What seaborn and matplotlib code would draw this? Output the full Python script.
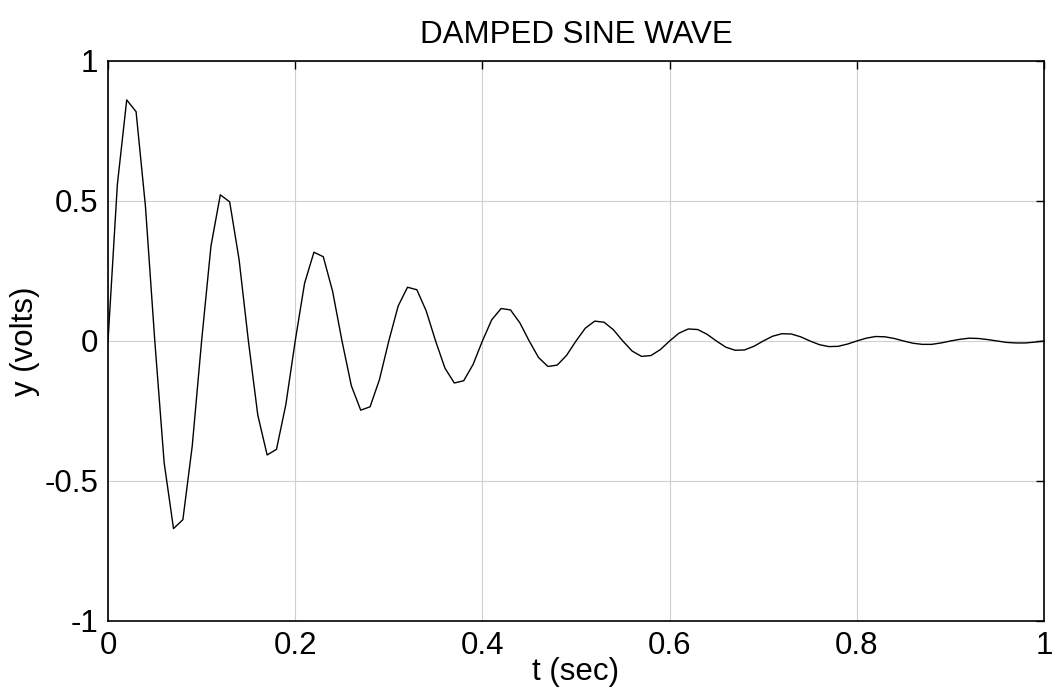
import matplotlib
matplotlib.use("Agg")
import matplotlib.pyplot as plt
import seaborn as sns
import pandas as pd

# sample times (s) and measured voltage of the damped sine
t_sec = [round(0.01 * k, 2) for k in range(101)]
y_volts = [
    0.000, 0.559, 0.861, 0.819, 0.481, 0.000, -0.435, -0.670, -0.638, -0.375,
    0.000, 0.339, 0.522, 0.497, 0.292, 0.000, -0.264, -0.407, -0.387, -0.227,
    0.000, 0.206, 0.317, 0.301, 0.177, 0.000, -0.160, -0.247, -0.235, -0.138,
    0.000, 0.125, 0.192, 0.183, 0.107, 0.000, -0.097, -0.150, -0.142, -0.084,
    0.000, 0.076, 0.116, 0.111, 0.065, 0.000, -0.059, -0.091, -0.086, -0.051,
    0.000, 0.046, 0.071, 0.067, 0.040, 0.000, -0.036, -0.055, -0.052, -0.031,
    0.000, 0.028, 0.043, 0.041, 0.024, 0.000, -0.022, -0.033, -0.032, -0.019,
    0.000, 0.017, 0.026, 0.025, 0.015, 0.000, -0.013, -0.020, -0.019, -0.011,
    0.000, 0.010, 0.016, 0.015, 0.009, 0.000, -0.008, -0.012, -0.012, -0.007,
    0.000, 0.006, 0.010, 0.009, 0.005, 0.000, -0.005, -0.007, -0.007, -0.004,
    0.000,
]
x_ticks = [0, 0.2, 0.4, 0.6, 0.8, 1]
x_tick_labels = ["0", "0.2", "0.4", "0.6", "0.8", "1"]
y_ticks = [-1, -0.5, 0, 0.5, 1]
y_tick_labels = ["-1", "-0.5", "0", "0.5", "1"]

sns.set_style("white")
plt.rcParams["font.family"] = ["Liberation Sans", "DejaVu Sans"]

df = pd.DataFrame({"t": t_sec, "y": y_volts})

fig = plt.figure(figsize=(10.52, 6.92), dpi=100)
ax = fig.add_axes([108 / 1052, 1 - 621 / 692, (1044 - 108) / 1052, (621 - 61) / 692])

sns.lineplot(data=df, x="t", y="y", ax=ax, color="black", linewidth=1.0,
             estimator=None, sort=False)

ax.set_xlim(0, 1)
ax.set_ylim(-1, 1)
ax.set_xticks(x_ticks)
ax.set_xticklabels(x_tick_labels)
ax.set_yticks(y_ticks)
ax.set_yticklabels(y_tick_labels)
ax.grid(True, color="#d0d0d0", linewidth=0.8)
ax.set_axisbelow(True)
ax.tick_params(direction="in", length=6, width=1, top=True, right=True,
               labelsize=22.5, colors="black")
ax.tick_params(axis="x", pad=7)
ax.tick_params(axis="y", pad=7)
for s in ax.spines.values():
    s.set_color("black")
    s.set_linewidth(1.2)

ax.set_title("DAMPED SINE WAVE", fontsize=22.5, color="black", pad=13)
ax.set_xlabel("t (sec)", fontsize=22.5, color="black", labelpad=-3)
ax.set_ylabel("y (volts)", fontsize=22.5, color="black", labelpad=3)

fig.savefig("out.png", dpi=100, facecolor="white")
